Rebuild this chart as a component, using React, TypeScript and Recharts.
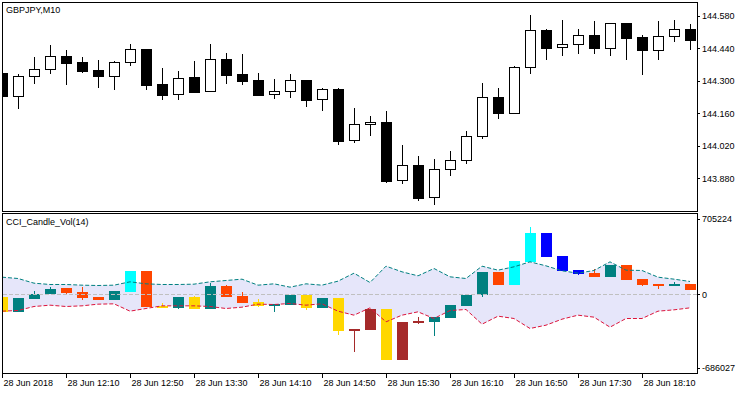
import { ComposedChart, Bar, Line, Area, XAxis, YAxis, ReferenceLine } from 'recharts'

const FONT = "'Liberation Sans', Arial, sans-serif"

// 10-minute bars, 28 Jun 2018
const times = [
  '11:30', '11:40', '11:50', '12:00', '12:10', '12:20', '12:30', '12:40', '12:50', '13:00', '13:10',
  '13:20', '13:30', '13:40', '13:50', '14:00', '14:10', '14:20', '14:30', '14:40', '14:50', '15:00',
  '15:10', '15:20', '15:30', '15:40', '15:50', '16:00', '16:10', '16:20', '16:30', '16:40', '16:50',
  '17:00', '17:10', '17:20', '17:30', '17:40', '17:50', '18:00', '18:10', '18:20', '18:30', '18:40',
]

const priceOpen = [
  144.336, 144.236, 144.32, 144.35, 144.408, 144.382, 144.347, 144.323, 144.38, 144.438, 144.287,
  144.242, 144.317, 144.255, 144.395, 144.33, 144.304, 144.242, 144.255, 144.304, 144.221, 144.265,
  144.044, 144.113, 144.123, 143.872, 143.938, 143.798, 143.919, 143.958, 144.061, 144.229, 144.163,
  144.361, 144.52, 144.445, 144.458, 144.498, 144.443, 144.549, 144.489, 144.435, 144.492, 144.523,
]
const priceHigh = [
  144.337, 144.33, 144.403, 144.455, 144.433, 144.403, 144.39, 144.386, 144.461, 144.439, 144.356,
  144.343, 144.386, 144.461, 144.42, 144.416, 144.334, 144.308, 144.33, 144.305, 144.27, 144.27,
  144.183, 144.149, 144.17, 144.024, 143.976, 143.963, 143.998, 144.084, 144.291, 144.268, 144.363,
  144.586, 144.523, 144.563, 144.523, 144.558, 144.55, 144.55, 144.499, 144.558, 144.563, 144.546,
]
const priceLow = [
  144.235, 144.18, 144.288, 144.331, 144.282, 144.336, 144.271, 144.262, 144.366, 144.262, 144.219,
  144.219, 144.249, 144.254, 144.288, 144.281, 144.24, 144.223, 144.228, 144.189, 144.172, 144.025,
  144.034, 144.064, 143.861, 143.857, 143.784, 143.766, 143.891, 143.943, 144.051, 144.137, 144.159,
  144.33, 144.39, 144.409, 144.416, 144.417, 144.409, 144.392, 144.327, 144.392, 144.469, 144.435,
]
const priceClose = [
  144.236, 144.32, 144.35, 144.406, 144.379, 144.344, 144.323, 144.382, 144.436, 144.284, 144.241,
  144.311, 144.254, 144.395, 144.327, 144.301, 144.241, 144.257, 144.303, 144.219, 144.264, 144.042,
  144.113, 144.122, 143.87, 143.938, 143.797, 143.919, 143.958, 144.061, 144.229, 144.163, 144.359,
  144.518, 144.443, 144.459, 144.498, 144.443, 144.549, 144.486, 144.435, 144.494, 144.523, 144.478,
]

// CCI_Candle_Vol(14) candles
const volOpen = [
  -24900, -161800, -40500, 0, 59100, 21800, -28000, -49800, 24900, 217800, -108900,
  -124500, -24900, -133800, 77800, -15600, -71600, -99600, -99600, -6200, -124500, -34200,
  -323600, -136900, -136900, -258300, -249000, -255200, -217800, -105800, -6200, 208500, 87100,
  305000, 572600, 357900, 227200, 199200, 164900, 273900, 143200, 96500, 80900, 96500,
]
const volHigh = [
  -24900, -37300, 31100, 68500, 59100, 68500, -28000, 31100, 217800, 217800, -84000,
  -24900, -15600, 102700, 87100, 18700, -43600, -90200, -6200, -6200, -34200, -34200,
  -323600, -136900, -136900, -258300, -214700, -214700, -99600, -6200, 208500, 208500, 311200,
  628600, 572600, 357900, 227200, 242700, 273900, 273900, 143200, 96500, 115100, 96500,
]
const volLow = [
  -161800, -161800, -40500, 0, 0, -49800, -49800, -49800, 24900, -115100, -124500,
  -133800, -133800, -133800, -21800, -77800, -115100, -161800, -99600, -143200, -124500, -376600,
  -535300, -329900, -610000, -610000, -273900, -385900, -217800, -105800, -28000, 90200, 87100,
  305000, 351700, 217800, 183600, 164900, 164900, 136900, 77800, 56000, 80900, 43600,
]
const volClose = [
  -161800, -37300, 0, 56000, 15600, -31100, -49800, 31100, 217800, -115100, -124500,
  -24900, -133800, 77800, -21800, -77800, -105800, -90200, -6200, -124500, -34200, -339200,
  -339200, -329900, -610000, -610000, -267600, -214700, -99600, -6200, 208500, 90200, 311200,
  572600, 351700, 217800, 189800, 164900, 273900, 136900, 90200, 80900, 96500, 43600,
]
// colour buffer index of each indicator candle
const volColorIdx = [
  4, 1, 1, 1, 3, 3, 3, 1, 0, 3, 4,
  1, 4, 1, 3, 3, 4, 1, 1, 4, 1, 4,
  5, 5, 4, 5, 5, 1, 1, 1, 1, 3, 0,
  0, 2, 2, 2, 3, 1, 3, 3, 3, 1, 3,
]
const bandUpper = [
  161800, 149400, 105800, 93400, 93400, 87100, 84000, 87100, 118300, 99600, 93400,
  93400, 96500, 118300, 130700, 143200, 87100, 99600, 68500, 99600, 87100, 124500,
  199200, 112000, 264500, 211600, 174300, 242700, 164900, 149400, 264500, 227200, 258300,
  305000, 267600, 221000, 199200, 224100, 305000, 227200, 224100, 161800, 143200, 121400,
]
const bandLower = [
  -155600, -149400, -112000, -99600, -112000, -105800, -90200, -87100, -155600, -130700, -105800,
  -105800, -105800, -112000, -130700, -118300, -90200, -93400, -84000, -99600, -87100, -155600,
  -192900, -124500, -255200, -192900, -161800, -224100, -149400, -140000, -277000, -202300, -224100,
  -317400, -286300, -230300, -192900, -211600, -305000, -224100, -224100, -155600, -143200, -124500,
]

const priceTicks = [144.58, 144.44, 144.3, 144.16, 144.02, 143.88]
const volTicks = [705224, 0, -686027]
const timeTickIdx = [0, 4, 8, 12, 16, 20, 24, 28, 32, 36, 40]
const timeTickLabels = [
  '28 Jun 2018', '28 Jun 12:10', '28 Jun 12:50', '28 Jun 13:30', '28 Jun 14:10', '28 Jun 14:50',
  '28 Jun 15:30', '28 Jun 16:10', '28 Jun 16:50', '28 Jun 17:30', '28 Jun 18:10',
]

const palette = ['#00ffff', '#008080', '#0000ff', '#ff4500', '#ffd700', '#a52a2a']

const rows = times.map((t, i) => ({
  i,
  t,
  open: priceOpen[i],
  high: priceHigh[i],
  low: priceLow[i],
  close: priceClose[i],
  vOpen: volOpen[i],
  vHigh: volHigh[i],
  vLow: volLow[i],
  vClose: volClose[i],
  vColor: palette[volColorIdx[i]],
  upper: bandUpper[i],
  lower: bandLower[i],
}))

const X_DOMAIN: [number, number] = [0, 43.4375]

function PriceCandle(props: any) {
  const { x, y, width, height, payload } = props
  if (x == null || !payload) return null
  const top = Math.min(y, y + height)
  const h = Math.abs(height)
  const k = h / (payload.high - payload.low)
  const py = (v: number) => top + (payload.high - v) * k
  const cx = Math.round(x + width / 2) + 0.5
  const up = payload.close >= payload.open
  const bTop = Math.round(py(Math.max(payload.open, payload.close)))
  const bBot = Math.round(py(Math.min(payload.open, payload.close)))
  return (
    <g>
      <line x1={cx} x2={cx} y1={Math.round(top)} y2={Math.round(top + h)} stroke="#000" />
      <rect
        x={cx - 5}
        y={bTop + 0.5}
        width={10}
        height={Math.max(bBot - bTop, 1)}
        fill={up ? '#fff' : '#000'}
        stroke="#000"
      />
    </g>
  )
}

function VolCandle(props: any) {
  const { x, y, width, height, payload } = props
  if (x == null || !payload) return null
  const top = Math.min(y, y + height)
  const h = Math.abs(height)
  const k = h / (payload.vHigh - payload.vLow)
  const py = (v: number) => top + (payload.vHigh - v) * k
  const cx = Math.round(x + width / 2) + 0.5
  const bTop = Math.round(py(Math.max(payload.vOpen, payload.vClose)))
  const bBot = Math.round(py(Math.min(payload.vOpen, payload.vClose)))
  return (
    <g>
      <line x1={cx} x2={cx} y1={Math.round(top)} y2={Math.round(top + h)} stroke={payload.vColor} />
      <rect x={cx - 5.5} y={bTop} width={11} height={Math.max(bBot - bTop, 2)} fill={payload.vColor} />
    </g>
  )
}

function RightTick(props: any) {
  const { x, y, payload, fmt } = props
  const yy = Math.round(y) + 0.5
  return (
    <g>
      <line x1={x - 5} x2={x - 2} y1={yy} y2={yy} stroke="#000" />
      <text x={x} y={y} dy="0.355em" fontSize={9} fontFamily={FONT} fill="#000">
        {fmt(payload.value)}
      </text>
    </g>
  )
}

function TimeTick(props: any) {
  const { x, y, payload } = props
  const xx = Math.round(x) + 0.5
  const k = timeTickIdx.indexOf(payload.value)
  return (
    <g>
      <line x1={xx} x2={xx} y1={y - 7} y2={y - 2} stroke="#000" />
      <text x={xx + 1} y={y} dy="0.71em" fontSize={9} fontFamily={FONT} fill="#000">
        {k >= 0 ? timeTickLabels[k] : ''}
      </text>
    </g>
  )
}

export default function App() {
  return (
    <div
      style={{
        position: 'fixed',
        left: 0,
        top: 0,
        width: 750,
        height: 394,
        background: '#fff',
        overflow: 'hidden',
      }}
    >
      <div style={{ position: 'absolute', left: 0, top: 0 }}>
        <ComposedChart width={750} height={213} data={rows} margin={{ top: 2, right: 0, bottom: 2, left: 2 }}>
          <XAxis type="number" dataKey="i" domain={X_DOMAIN} allowDataOverflow hide />
          <YAxis
            orientation="right"
            type="number"
            domain={[143.7391, 144.6404]}
            allowDataOverflow
            ticks={priceTicks}
            interval={0}
            width={53}
            axisLine={false}
            tickLine={false}
            tickSize={3}
            tickMargin={2}
            tick={<RightTick fmt={(v: number) => v.toFixed(3)} />}
          />
          <Bar
            dataKey={(d: any) => [d.low, d.high]}
            barSize={11}
            shape={<PriceCandle />}
            isAnimationActive={false}
          />
        </ComposedChart>
      </div>
      <div style={{ position: 'absolute', left: 0, top: 212 }}>
        <ComposedChart width={750} height={182} data={rows} margin={{ top: 1, right: 0, bottom: 0, left: 2 }}>
          <XAxis
            type="number"
            dataKey="i"
            domain={X_DOMAIN}
            allowDataOverflow
            ticks={timeTickIdx}
            height={21}
            axisLine={false}
            tickLine={false}
            tickSize={5}
            tickMargin={2}
            interval={0}
            tick={<TimeTick />}
          />
          <YAxis
            orientation="right"
            type="number"
            domain={[-732900, 760900]}
            allowDataOverflow
            ticks={volTicks}
            interval={0}
            width={53}
            axisLine={false}
            tickLine={false}
            tickSize={3}
            tickMargin={2}
            tick={<RightTick fmt={(v: number) => String(v)} />}
          />
          <Area
            dataKey={(d: any) => [d.lower, d.upper]}
            type="linear"
            stroke="none"
            fill="#e6e6fa"
            fillOpacity={1}
            isAnimationActive={false}
          />
          <ReferenceLine y={0} stroke="#c0c0c0" strokeDasharray="4 2" />
          <Line
            dataKey="upper"
            type="linear"
            stroke="#008080"
            strokeDasharray="4 2"
            dot={false}
            isAnimationActive={false}
          />
          <Line
            dataKey="lower"
            type="linear"
            stroke="#dc143c"
            strokeDasharray="4 2"
            dot={false}
            isAnimationActive={false}
          />
          <Bar
            dataKey={(d: any) => [d.vLow, d.vHigh]}
            barSize={11}
            shape={<VolCandle />}
            isAnimationActive={false}
          />
        </ComposedChart>
      </div>
      <svg
        width={750}
        height={394}
        style={{ position: 'absolute', left: 0, top: 0, pointerEvents: 'none' }}
      >
        <rect x={2.5} y={2.5} width={695} height={209} fill="none" stroke="#000" />
        <rect x={2.5} y={213.5} width={695} height={160} fill="none" stroke="#000" />
        <text x={6} y={13} fontSize={9} fontFamily={FONT} fill="#000">
          GBPJPY,M10
        </text>
        <text x={6} y={225} fontSize={9} fontFamily={FONT} fill="#000">
          CCI_Candle_Vol(14)
        </text>
      </svg>
    </div>
  )
}
